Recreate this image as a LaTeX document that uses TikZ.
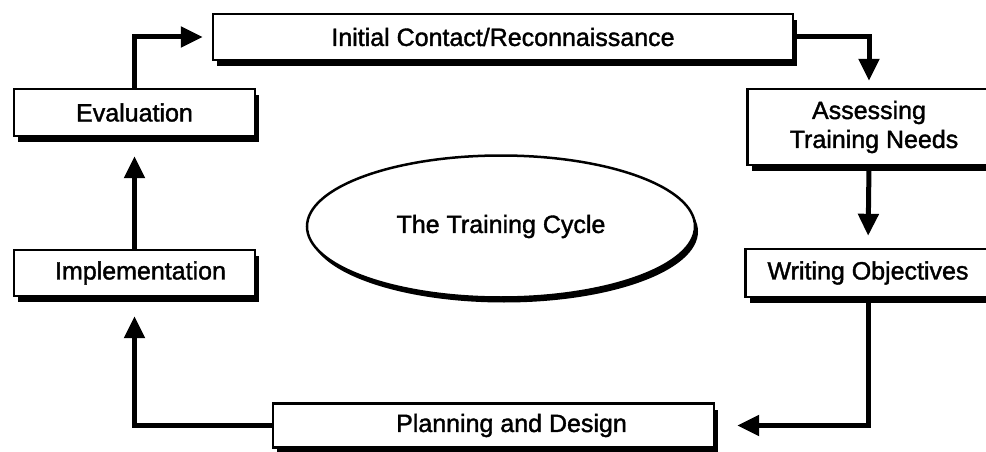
\documentclass[tikz,border=0pt]{standalone}
\usepackage{fontspec}
\setmainfont[FakeBold=1.5,AutoFakeBold=1.5]{Liberation Sans}
\usetikzlibrary{arrows.meta,shadows,shapes.geometric,backgrounds}
\begin{document}
\begin{tikzpicture}[x=1pt,y=-1pt,
  label font/.style={font=\fontsize{25}{29}\selectfont\bfseries},
  stage/.style={draw, line width=2.4pt, fill=white, inner sep=0pt, align=center,
    label font,
    drop shadow={shadow xshift=4pt, shadow yshift=-6pt, opacity=1, fill=black}},
  flow/.style={line width=5pt, line join=miter, -{Triangle[length=22pt,width=20pt]}},
]
\useasboundingbox (0,0) rectangle (986,452);

% stages of the cycle
\node[stage, minimum width=580pt, minimum height=46pt] (init) at (503,37) {Initial Contact/Reconnaissance};
\node[stage, minimum width=243pt, minimum height=76pt] (assess) at (869,127) {Assessing\\\hspace*{10pt}Training Needs};
\node[stage, minimum width=245pt, minimum height=48pt] (write) at (868,273) {Writing Objectives};
\node[stage, minimum width=441pt, minimum height=44pt] (plan) at (493.5,425.5) {\hspace*{36pt}Planning and Design};
\node[stage, minimum width=241pt, minimum height=46pt] (impl) at (134.5,273) {\hspace*{12pt}Implementation};
\node[stage, minimum width=241pt, minimum height=47pt] (eval) at (134.5,112.5) {Evaluation};

% central label
\node[ellipse, draw, line width=2.5pt, fill=white, inner sep=0pt,
  minimum width=388pt, minimum height=142pt, label font,
  drop shadow={shadow xshift=3pt, shadow yshift=-5pt, opacity=1, fill=black}]
  (cycle) at (501,226.5) {The Training Cycle};

% connectors around the cycle
\begin{scope}[on background layer]
\draw[flow, shorten >=9pt] (eval.north) |- (init.west);
\draw[flow, shorten >=7pt] (init.east) -| (assess.north);
\draw[flow, shorten >=12pt] (assess.south) -- (write.north);
\draw[flow, shorten >=22pt] (write.south) |- (plan.east);
\draw[flow, shorten >=19pt] (plan.west) -| (impl.south);
\draw[flow, shorten >=19pt] (impl.north) -- (eval.south);
\end{scope}
\end{tikzpicture}
\end{document}
